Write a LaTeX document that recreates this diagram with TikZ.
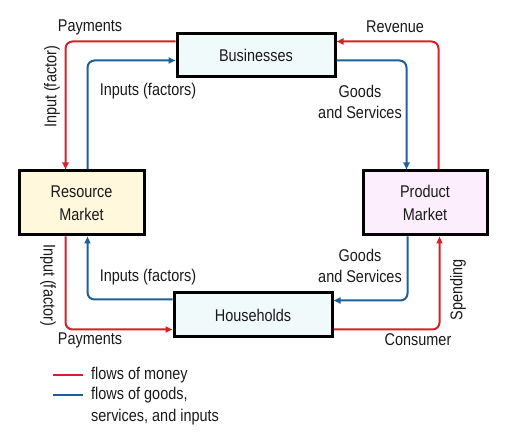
\documentclass[tikz,border=0pt]{standalone}
\usepackage{fontspec}
\setmainfont{Liberation Sans}[FakeStretch=0.85]
\usetikzlibrary{arrows.meta}
\definecolor{moneyred}{HTML}{D42129}
\definecolor{goodsblue}{HTML}{1E5F98}
\definecolor{bizfill}{HTML}{F0FAFA}
\definecolor{resfill}{HTML}{FFF8DC}
\definecolor{prodfill}{HTML}{FCEEFC}
\definecolor{txt}{HTML}{1A1A1A}
\tikzset{
  box/.style={draw=black, line width=3pt, inner sep=0pt, align=center, text=txt, font=\fontsize{17}{21}\selectfont},
  flow/.style={line width=2pt, rounded corners=7pt, -{Triangle[length=7pt,width=6pt]}},
  money/.style={flow, draw=moneyred, color=moneyred},
  goods/.style={flow, draw=goodsblue, color=goodsblue},
  lbl/.style={text=txt, font=\fontsize{17}{21}\selectfont, inner sep=0pt, align=center},
  legline/.style={line width=2.5pt}
}
\begin{document}
\begin{tikzpicture}[x=1pt,y=-1pt]
\useasboundingbox (0,0) rectangle (515,438);
\node[box, fill=bizfill, minimum width=158pt, minimum height=43pt] (biz) at (256,55.5) {Businesses};
\node[box, fill=resfill, minimum width=125pt, minimum height=64pt] (res) at (81.5,203) {Resource\\[2pt]Market};
\node[box, fill=prodfill, minimum width=124pt, minimum height=64pt] (prod) at (425,203) {Product\\[2pt]Market};
\node[box, fill=bizfill, minimum width=158pt, minimum height=44pt] (hh) at (253,315) {Households};

% top
\draw[money] ([yshift=-9pt]biz.north west) -| ([xshift=48pt]res.north west);
\draw[goods] ([xshift=70pt]res.north west) |- ([yshift=-28pt]biz.north west);
\draw[money] ([xshift=77pt]prod.north west) |- ([yshift=-9pt]biz.north east);
\draw[goods] ([yshift=-28pt]biz.north east) -| ([xshift=45pt]prod.north west);
% bottom
\draw[money] ([xshift=48pt]res.south west) |- ([yshift=9pt]hh.south west);
\draw[goods] ([yshift=-8pt]hh.north west) -| ([xshift=70pt]res.south west);
\draw[goods] ([xshift=46pt]prod.south west) |- ([yshift=-9pt]hh.north east);
\draw[money] ([yshift=9pt]hh.south east) -| ([xshift=78pt]prod.south west);

% labels
\node[lbl] (l1) at (90,27) {Payments};
\node[lbl, rotate=90] (l2) at (52,87) {Input (factor)};
\node[lbl] (l3) at (148,91) {Inputs (factors)};
\node[lbl] (l4) at (395,27) {Revenue};
\node[lbl] (l5) at (360,101.5) {Goods\\and Services};
\node[lbl, rotate=-90] (l6) at (48,285) {Input (factor)};
\node[lbl] (l7) at (148,277) {Inputs (factors)};
\node[lbl] (l8) at (360,266) {Goods\\and Services};
\node[lbl, rotate=90] (l9) at (458,290) {Spending};
\node[lbl] (l10) at (90,340) {Payments};
\node[lbl] (l11) at (418,340) {Consumer};

% legend
\coordinate (m1) at (53,375); \coordinate (m2) at (83,375);
\coordinate (g1) at (53,395); \coordinate (g2) at (83,395);
\draw[legline, moneyred] (m1) -- (m2);
\draw[legline, goodsblue] (g1) -- (g2);
\node[lbl, anchor=west] (t1) at (91,375) {flows of money};
\node[lbl, anchor=west] (t2) at (91,395) {flows of goods,};
\node[lbl, anchor=west] (t3) at (91,417) {services, and inputs};
\end{tikzpicture}
\end{document}
